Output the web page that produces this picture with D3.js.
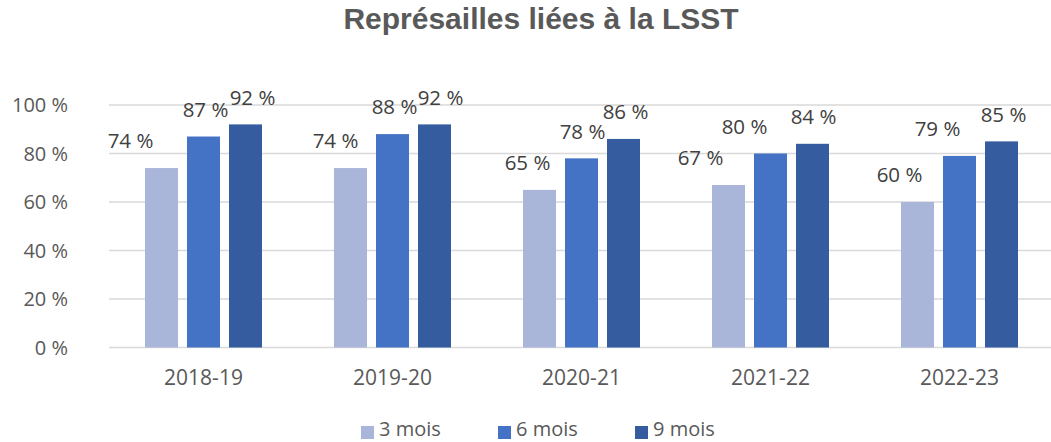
<!DOCTYPE html>
<html lang="fr">
<head>
<meta charset="utf-8">
<title>Représailles liées à la LSST</title>
<script src="https://d3js.org/d3.v7.min.js"></script>
<style>
  body { margin: 0; background: #fff; }
  svg text { font-family: "Open Sans", sans-serif; }
</style>
</head>
<body>
<div id="chart"></div>
<script>
// data
var categories = ["2018-19", "2019-20", "2020-21", "2021-22", "2022-23"];
var seriesNames = ["3 mois", "6 mois", "9 mois"];
var mois3 = [74, 74, 65, 67, 60];
var mois6 = [87, 88, 78, 80, 79];
var mois9 = [92, 92, 86, 84, 85];
var yTicks = [0, 20, 40, 60, 80, 100];

var seriesValues = [mois3, mois6, mois9];
var colors = ["#a9b5d9", "#4472c4", "#355c9f"];
// horizontal nudges of the value labels (as placed in the original)
var labelNudge = [
  [-31, 2, 7],
  [-15, 2, 6],
  [-12, 1, 2],
  [-28, -26, 1],
  [-18, -22, 2]
];

var W = 1051, H = 442;
var svg = d3.select("#chart").append("svg")
    .attr("width", W)
    .attr("height", H);

var x0 = d3.scaleBand()
    .domain(categories)
    .range([109, 1054])
    .padding(0);

var x1 = d3.scaleBand()
    .domain(seriesNames)
    .range([36, 153])
    .paddingInner(9 / 42)
    .paddingOuter(0);

var y = d3.scaleLinear()
    .domain([0, 100])
    .range([347.5, 105]);

// title
svg.append("text")
    .attr("x", 541)
    .attr("y", 28.5)
    .attr("text-anchor", "middle")
    .style("font-family", "'Liberation Sans', Arial, sans-serif")
    .attr("font-size", 30)
    .attr("font-weight", "bold")
    .attr("fill", "#595959")
    .text("Représailles liées à la LSST");

// gridlines
svg.append("g")
  .selectAll("line")
  .data(yTicks)
  .enter()
  .append("line")
    .attr("x1", 109)
    .attr("x2", W)
    .attr("y1", function(d) { return y(d); })
    .attr("y2", function(d) { return y(d); })
    .attr("stroke", "#d9d9d9")
    .attr("stroke-width", 1.3);

// y labels
svg.append("g")
  .selectAll("text")
  .data(yTicks)
  .enter()
  .append("text")
    .attr("x", 68)
    .attr("y", function(d) { return y(d); })
    .attr("dy", "0.35em")
    .attr("text-anchor", "end")
    .attr("font-size", 20)
    .attr("fill", "#595959")
    .text(function(d) { return d + " %"; });

// x labels
svg.append("g")
  .selectAll("text")
  .data(categories)
  .enter()
  .append("text")
    .attr("x", function(d) { return x0(d) + x0.bandwidth() / 2; })
    .attr("y", 378)
    .attr("dy", "0.35em")
    .attr("text-anchor", "middle")
    .attr("font-size", 21)
    .attr("fill", "#595959")
    .text(function(d) { return d; });

// bars and labels
var groups = svg.append("g")
  .selectAll("g")
  .data(categories)
  .enter()
  .append("g")
    .attr("transform", function(d) { return "translate(" + x0(d) + ",0)"; });

groups.selectAll("rect")
  .data(function(d, i) {
    return seriesNames.map(function(s, j) { return {s: s, v: seriesValues[j][i], j: j}; });
  })
  .enter()
  .append("rect")
    .attr("x", function(d) { return x1(d.s); })
    .attr("y", function(d) { return y(d.v); })
    .attr("width", x1.bandwidth())
    .attr("height", function(d) { return y(0) - y(d.v); })
    .attr("fill", function(d) { return colors[d.j]; });

groups.selectAll("text")
  .data(function(d, i) {
    return seriesNames.map(function(s, j) { return {s: s, v: seriesValues[j][i], j: j, nx: labelNudge[i][j]}; });
  })
  .enter()
  .append("text")
    .attr("x", function(d) { return x1(d.s) + x1.bandwidth() / 2 + d.nx; })
    .attr("y", function(d) { return y(d.v) - 27; })
    .attr("dy", "0.35em")
    .attr("text-anchor", "middle")
    .attr("font-size", 20.5)
    .attr("fill", "#404040")
    .text(function(d) { return Math.round(d.v) + " %"; });

// legend
var legend = svg.append("g")
  .selectAll("g")
  .data(seriesNames)
  .enter()
  .append("g")
    .attr("transform", function(d, i) { return "translate(" + (361 + i * 137) + ",426)"; });

legend.append("rect")
    .attr("width", 13)
    .attr("height", 13)
    .attr("fill", function(d, i) { return colors[i]; });

legend.append("text")
    .attr("x", 18)
    .attr("y", 2.5)
    .attr("dy", "0.35em")
    .attr("font-size", 20)
    .attr("fill", "#595959")
    .text(function(d) { return d; });
</script>
</body>
</html>
